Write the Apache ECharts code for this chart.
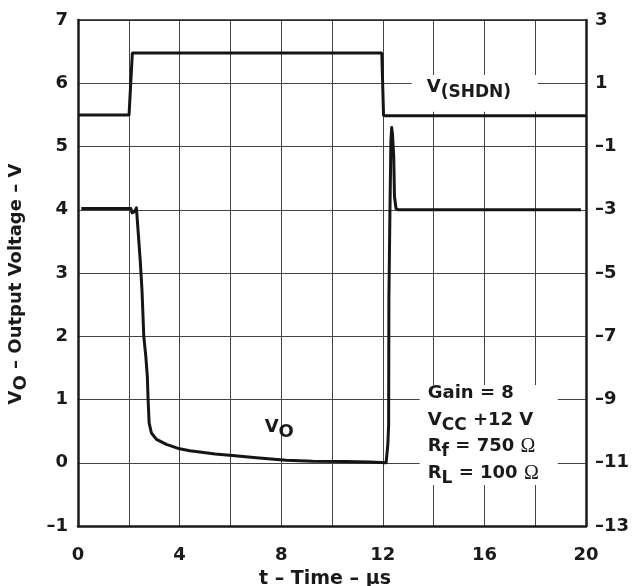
<!DOCTYPE html>
<html><head><meta charset="utf-8">
<script src="https://cdn.jsdelivr.net/npm/echarts@6/dist/echarts.min.js"></script>
<style>html,body{margin:0;padding:0;background:#fff}#c{width:633px;height:586px}</style>
</head><body><div id="c"></div>
<script>
// ---- data ----
const xLabelTicks = [0, 4, 8, 12, 16, 20];
const leftRange = [-1, 7];
const rightRange = [-13, 3];
const shdnTime = [0, 2.01, 2.14, 11.96, 12.03, 20];
const shdnVolt = [0, 0, 1.96, 1.96, -0.03, -0.03];
const voTime = [0.13, 2.08, 2.13, 2.17, 2.22, 2.30, 2.36, 2.45, 2.52, 2.59, 2.67, 2.73, 2.76, 2.80, 2.89, 3.09, 3.48, 4.00, 4.40, 4.79, 5.40, 5.97, 6.50, 7.02, 7.60, 8.20, 9.24, 10.50, 11.50, 12.13, 12.16, 12.20, 12.23, 12.24, 12.28, 12.32, 12.35, 12.38, 12.43, 12.46, 12.52, 12.60, 19.80];
const voVolt = [4.02, 4.02, 3.95, 3.92, 3.97, 4.03, 4.02, 3.20, 2.72, 2.00, 1.68, 1.36, 1.00, 0.63, 0.47, 0.37, 0.29, 0.22, 0.19, 0.17, 0.14, 0.12, 0.10, 0.08, 0.06, 0.04, 0.025, 0.02, 0.01, 0.00, -0.03, 0.30, 0.60, 2.60, 3.94, 5.10, 5.30, 5.20, 4.84, 4.21, 4.02, 4.00, 4.00];

const FONT = 'DejaVu Sans';
const INK = '#1a1a1a';
const fmtMinus = v => String(v).replace('-', '\u2013');
const lbl = {fontFamily: FONT, fontWeight: 'bold', fontSize: 18, color: INK};

const chart = echarts.init(document.getElementById('c'));
chart.setOption({
  animation: false,
  backgroundColor: '#fff',
  grid: {left: 78, right: 47, top: 20, bottom: 60, containLabel: false, outerBoundsMode: 'none'},
  xAxis: [{
    type: 'value', min: 0, max: 20, interval: 2, position: 'bottom',
    axisLine: {show: true, onZero: false, lineStyle: {color: INK, width: 2.5}},
    axisTick: {show: false},
    splitLine: {show: true, lineStyle: {color: '#444', width: 1}},
    axisLabel: Object.assign({margin: 20, formatter: v => xLabelTicks.includes(v) ? String(v) : ''}, lbl),
    name: 't \u2013 Time \u2013 \u03bcs', nameLocation: 'middle', nameGap: 44,
    nameTextStyle: {fontFamily: FONT, fontWeight: 'bold', fontSize: 19, color: INK, padding: [0, 14, 0, 0]}
  }, {
    type: 'value', min: 0, max: 20, position: 'top',
    axisLine: {show: true, onZero: false, lineStyle: {color: '#222', width: 1.5}},
    axisTick: {show: false}, axisLabel: {show: false}, splitLine: {show: false}
  }],
  yAxis: [{
    type: 'value', min: leftRange[0], max: leftRange[1], interval: 1, position: 'left',
    axisLine: {show: true, onZero: false, lineStyle: {color: INK, width: 2.5}},
    axisTick: {show: false},
    splitLine: {show: true, lineStyle: {color: '#444', width: 1}},
    axisLabel: Object.assign({margin: 10, formatter: fmtMinus}, lbl),
    name: '{a|V}{b|O}{a| \u2013 Output Voltage \u2013 V}', nameLocation: 'middle', nameGap: 48, nameRotate: 90,
    nameTextStyle: {padding: [0, 22, 0, 0], rich: {
      a: {fontFamily: FONT, fontWeight: 'bold', fontSize: 18, color: INK},
      b: {fontFamily: FONT, fontWeight: 'bold', fontSize: 18, color: INK, padding: [10, 0, 0, 0]}
    }}
  }, {
    type: 'value', min: rightRange[0], max: rightRange[1], interval: 2, position: 'right',
    axisLine: {show: true, onZero: false, lineStyle: {color: INK, width: 2.5}},
    axisTick: {show: false}, splitLine: {show: false},
    axisLabel: Object.assign({margin: 9, formatter: fmtMinus}, lbl)
  }],
  series: [{
    type: 'line', name: 'V(SHDN)', yAxisIndex: 1, symbol: 'none', z: 3,
    lineStyle: {color: '#151515', width: 3},
    data: shdnTime.map((t, i) => [t, shdnVolt[i]])
  }, {
    type: 'line', name: 'VO', yAxisIndex: 0, symbol: 'none', z: 3,
    lineStyle: {color: '#151515', width: 3, join: 'round'},
    data: voTime.map((t, i) => [t, voVolt[i]])
  }]
});

const px = (t, v) => chart.convertToPixel({xAxisIndex: 0, yAxisIndex: 0}, [t, v]);
const box1a = px(13.14, 6.13), box1b = px(18.1, 5.55);
const box2a = px(13.45, 1.23), box2b = px(18.89, -0.35);
const t1 = px(13.73, 5.93);
const t2 = px(13.77, 1.30);
const t3 = px(7.35, 0.56);
const nrm = {fontFamily: FONT, fontWeight: 'bold', fontSize: 18, fill: INK, lineHeight: 26.5};
const sub = {fontFamily: FONT, fontWeight: 'bold', fontSize: 17, fill: INK, lineHeight: 26.5, padding: [10, 0, 0, 0]};
const om = {fontFamily: 'Liberation Serif', fontSize: 20, fill: INK, lineHeight: 26.5};
chart.setOption({
  graphic: [
    {type: 'rect', z: 2, shape: {x: box1a[0], y: box1a[1], width: box1b[0] - box1a[0], height: box1b[1] - box1a[1]}, style: {fill: '#fff'}},
    {type: 'rect', z: 2, shape: {x: box2a[0], y: box2a[1], width: box2b[0] - box2a[0], height: box2b[1] - box2a[1]}, style: {fill: '#fff'}},
    {type: 'text', z: 5, x: t1[0], y: t1[1], style: {text: '{n|V}{s|(SHDN)}', align: 'left', verticalAlign: 'middle',
      rich: {n: Object.assign({}, nrm, {lineHeight: 20}), s: Object.assign({}, sub, {lineHeight: 20})}}},
    {type: 'text', z: 5, x: t2[0], y: t2[1], style: {
      text: '{n|Gain = 8}\n{n|V}{s|CC}{n| +12 V}\n{n|R}{s|f}{n| = 750 }{w|\u03a9}\n{n|R}{s|L}{n| = 100 }{w|\u03a9}',
      align: 'left', verticalAlign: 'top', rich: {n: nrm, s: sub, w: om}}},
    {type: 'text', z: 5, x: t3[0], y: t3[1], style: {text: '{n|V}{s|O}', align: 'left', verticalAlign: 'middle',
      rich: {n: Object.assign({}, nrm, {lineHeight: 20}), s: Object.assign({}, sub, {fontSize: 18, lineHeight: 20})}}}
  ]
});
</script>
</body></html>
